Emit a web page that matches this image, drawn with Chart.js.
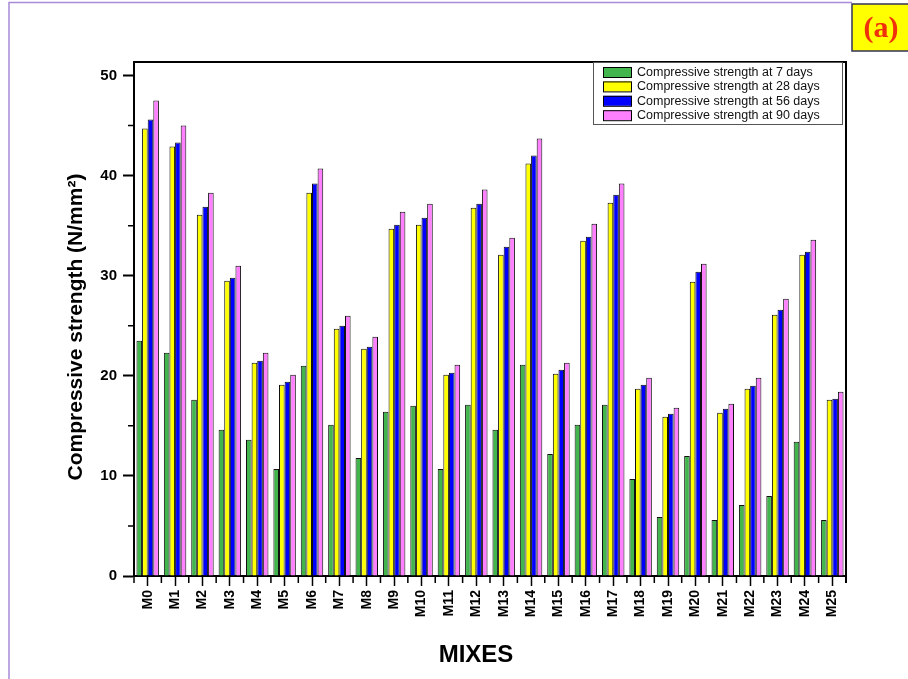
<!DOCTYPE html>
<html>
<head>
<meta charset="utf-8">
<title>Compressive strength of mixes</title>
<script src="https://cdn.jsdelivr.net/npm/chart.js@4.4.1/dist/chart.umd.min.js"></script>
<style>
  html, body { margin: 0; padding: 0; background: #fff; }
  canvas { display: block; }
</style>
</head>
<body>
<canvas id="strength-chart" width="908" height="679"></canvas>
<script>
const mixes = [
  'M0', 'M1', 'M2', 'M3', 'M4', 'M5', 'M6', 'M7', 'M8', 'M9',
  'M10', 'M11', 'M12', 'M13', 'M14', 'M15', 'M16', 'M17', 'M18', 'M19',
  'M20', 'M21', 'M22', 'M23', 'M24', 'M25'
];
const strength7 = [23.5, 22.3, 17.6, 14.6, 13.6, 10.7, 21.0, 15.1, 11.8, 16.4, 17.0, 10.7, 17.1, 14.6, 21.1, 12.2, 15.1, 17.1, 9.7, 5.9, 12.0, 5.6, 7.1, 8.0, 13.4, 5.6];
const strength28 = [44.7, 42.9, 36.1, 29.5, 21.3, 19.1, 38.3, 24.7, 22.7, 34.7, 35.1, 20.1, 36.8, 32.1, 41.2, 20.2, 33.5, 37.3, 18.7, 15.9, 29.4, 16.3, 18.7, 26.1, 32.1, 17.6];
const strength56 = [45.6, 43.3, 36.9, 29.8, 21.5, 19.4, 39.2, 25.0, 22.9, 35.1, 35.8, 20.3, 37.2, 32.9, 42.0, 20.6, 33.9, 38.1, 19.1, 16.2, 30.4, 16.7, 19.0, 26.6, 32.4, 17.7];
const strength90 = [47.5, 45.0, 38.3, 31.0, 22.3, 20.1, 40.7, 26.0, 23.9, 36.4, 37.2, 21.1, 38.6, 33.8, 43.7, 21.3, 35.2, 39.2, 19.8, 16.8, 31.2, 17.2, 19.8, 27.7, 33.6, 18.4];
const yTicks = [0, 10, 20, 30, 40, 50];
const seriesLabels = [
  'Compressive strength at 7 days',
  'Compressive strength at 28 days',
  'Compressive strength at 56 days',
  'Compressive strength at 90 days'
];

const FONT = "'Liberation Sans', Arial, sans-serif";
const colors = {
  green: '#42b54d',
  yellow: '#ffff00',
  blue: '#0000ff',
  pink: '#ff80ff'
};

// page frame, "(a)" badge, plot frame, minor ticks, legend and axis titles
const decorations = {
  id: 'decorations',
  beforeDraw(chart) {
    const ctx = chart.ctx;
    ctx.save();
    ctx.fillStyle = '#fff';
    ctx.fillRect(0, 0, chart.width, chart.height);
    ctx.strokeStyle = '#a88ad8';
    ctx.lineWidth = 1.5;
    ctx.beginPath();
    ctx.moveTo(9, chart.height);
    ctx.lineTo(9, 2.5);
    ctx.lineTo(852, 2.5);
    ctx.stroke();
    ctx.restore();
  },
  afterDraw(chart) {
    const ctx = chart.ctx;
    const area = chart.chartArea;
    const x = chart.scales.x;
    const y = chart.scales.y;
    ctx.save();

    // top and right frame
    ctx.strokeStyle = '#000';
    ctx.lineWidth = 2;
    ctx.beginPath();
    ctx.moveTo(area.left, area.top);
    ctx.lineTo(area.right, area.top);
    ctx.lineTo(area.right, area.bottom + 7);
    ctx.stroke();

    // minor ticks
    ctx.lineWidth = 1.5;
    ctx.beginPath();
    for (let i = 0; i < yTicks.length - 1; i++) {
      const py = y.getPixelForValue((yTicks[i] + yTicks[i + 1]) / 2);
      ctx.moveTo(area.left - 6, py);
      ctx.lineTo(area.left, py);
    }
    for (let i = 0; i <= mixes.length; i++) {
      const px = x.getPixelForValue(i - 0.5);
      ctx.moveTo(px, area.bottom);
      ctx.lineTo(px, area.bottom + 7);
    }
    ctx.stroke();

    // legend
    const lx = 593, ly = 62, lw = 249, lh = 62;
    ctx.fillStyle = '#fff';
    ctx.fillRect(lx, ly, lw, lh);
    ctx.strokeStyle = '#555';
    ctx.lineWidth = 1;
    ctx.strokeRect(lx + 0.5, ly + 0.5, lw, lh);
    ctx.font = '12.5px ' + FONT;
    ctx.textBaseline = 'middle';
    chart.data.datasets.forEach((ds, i) => {
      const cy = ly + 10 + i * 14.4;
      ctx.fillStyle = ds.backgroundColor;
      ctx.fillRect(603, cy - 5, 29, 10);
      ctx.strokeStyle = '#000';
      ctx.strokeRect(603.5, cy - 5 + 0.5, 28, 10);
      ctx.fillStyle = '#111';
      ctx.fillText(ds.label, 637, cy + 0.5);
    });

    // axis titles
    ctx.fillStyle = '#000';
    ctx.textAlign = 'center';
    ctx.font = 'bold 24px ' + FONT;
    ctx.fillText('MIXES', 476, 655);
    ctx.translate(76, 327);
    ctx.rotate(-Math.PI / 2);
    ctx.font = 'bold 21px ' + FONT;
    ctx.fillText('Compressive strength (N/mm\u00B2)', 0, 0);
    ctx.restore();

    // "(a)" badge
    ctx.save();
    ctx.fillStyle = '#ffff00';
    ctx.fillRect(852, 4, 60, 47);
    ctx.strokeStyle = '#33335a';
    ctx.lineWidth = 1.5;
    ctx.strokeRect(852, 4, 60, 47);
    ctx.fillStyle = '#f0300a';
    ctx.font = "bold 30px 'Liberation Serif', 'Times New Roman', serif";
    ctx.textAlign = 'center';
    ctx.textBaseline = 'middle';
    ctx.fillText('(a)', 881, 29);
    ctx.restore();
  }
};

const barStyle = { borderColor: '#111', borderWidth: 1, categoryPercentage: 0.82, barPercentage: 1.0 };

new Chart(document.getElementById('strength-chart'), {
  type: 'bar',
  data: {
    labels: mixes,
    datasets: [
      Object.assign({ label: seriesLabels[0], data: strength7, backgroundColor: colors.green }, barStyle),
      Object.assign({ label: seriesLabels[1], data: strength28, backgroundColor: colors.yellow }, barStyle),
      Object.assign({ label: seriesLabels[2], data: strength56, backgroundColor: colors.blue }, barStyle),
      Object.assign({ label: seriesLabels[3], data: strength90, backgroundColor: colors.pink }, barStyle)
    ]
  },
  options: {
    responsive: false,
    animation: false,
    layout: { padding: { left: 0, top: 62, right: 62, bottom: 0 } },
    plugins: {
      legend: { display: false },
      tooltip: { enabled: false }
    },
    scales: {
      x: {
        grid: {
          offset: false,
          drawOnChartArea: false,
          tickLength: 10,
          tickWidth: 1.5,
          tickColor: '#000'
        },
        border: { color: '#000', width: 2 },
        ticks: {
          autoSkip: false,
          minRotation: 90,
          maxRotation: 90,
          padding: 4,
          color: '#000',
          font: { family: FONT, size: 14, weight: 'bold' }
        },
        afterFit: (scale) => { scale.height = 103; }
      },
      y: {
        min: 0,
        max: 51.35,
        grid: {
          drawOnChartArea: false,
          tickLength: 11,
          tickWidth: 2,
          tickColor: '#000'
        },
        border: { color: '#000', width: 2 },
        ticks: {
          padding: 6,
          color: '#000',
          font: { family: FONT, size: 15, weight: 'bold' }
        },
        afterBuildTicks: (scale) => { scale.ticks = yTicks.map(v => ({ value: v })); },
        afterFit: (scale) => { scale.width = 134; }
      }
    }
  },
  plugins: [decorations]
});
</script>
</body>
</html>
